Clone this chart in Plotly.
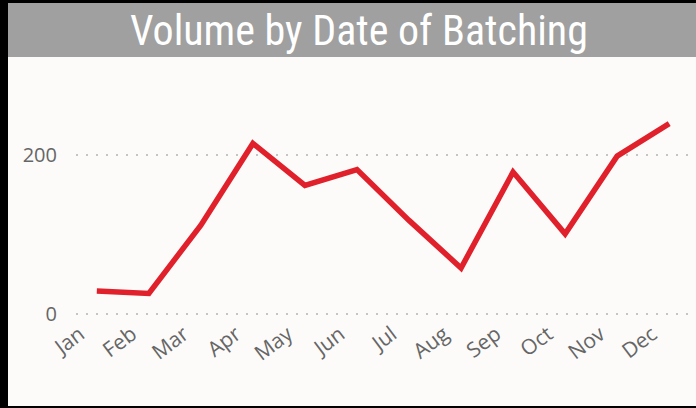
import plotly.graph_objects as go

months = ["Jan", "Feb", "Mar", "Apr", "May", "Jun", "Jul", "Aug", "Sep", "Oct", "Nov", "Dec"]
volume = [29, 26, 112, 215, 162, 182, 118, 58, 179, 101, 199, 240]
y_ticks = [0, 200]
title_text = "Volume by Date of Batching"

W, H = 696, 408
L, R, T, B = 76, 6, 76, 92
pw, ph = W - L - R, H - T - B


def px(x):
    return (x - L) / pw


def py(y):
    return (H - B - y) / ph


fig = go.Figure()
fig.add_trace(go.Scatter(
    x=months, y=volume, mode="lines",
    line=dict(color="#E0202A", width=5.5),
    hoverinfo="x+y",
))

shapes = [
    dict(type="rect", xref="paper", yref="paper", x0=px(0), x1=px(W), y0=py(57), y1=py(0),
         fillcolor="#A0A0A0", line=dict(width=0), layer="below"),
    dict(type="rect", xref="paper", yref="paper", x0=px(0), x1=px(W), y0=py(3), y1=py(0),
         fillcolor="#000000", line=dict(width=0)),
    dict(type="rect", xref="paper", yref="paper", x0=px(0), x1=px(8), y0=py(H), y1=py(0),
         fillcolor="#000000", line=dict(width=0)),
    dict(type="rect", xref="paper", yref="paper", x0=px(0), x1=px(W), y0=py(H), y1=py(406),
         fillcolor="#000000", line=dict(width=0)),
]

fig.update_layout(
    width=W, height=H,
    margin=dict(l=L, r=R, t=T, b=B),
    paper_bgcolor="#FCFBFA", plot_bgcolor="#FCFBFA",
    showlegend=False,
    shapes=shapes,
    annotations=[dict(
        text=title_text, xref="paper", yref="paper",
        x=px(359), y=py(30), xanchor="center", yanchor="middle", showarrow=False,
        font=dict(family="Liberation Sans Narrow, Roboto Condensed, Roboto", size=42, color="#FFFFFF"),
    )],
    xaxis=dict(
        type="category", range=[-0.4, 11.4], showgrid=False, zeroline=False, showline=False,
        tickangle=-37, tickfont=dict(family="Open Sans, Noto Sans", size=21, color="#666666"),
        ticks="", ticklabelshift=-17, ticklabelstandoff=1, fixedrange=True,
    ),
    yaxis=dict(
        range=[-2.5, 300], tickvals=y_ticks, showgrid=True, gridcolor="#C4C4C4", gridwidth=1.5,
        griddash="2px,8px", zeroline=False, showline=False, ticks="",
        tickfont=dict(family="Open Sans, Noto Sans", size=20, color="#666666"),
        ticklabelstandoff=18, fixedrange=True,
    ),
)

fig.write_html("out.html", config={"displayModeBar": False},
               post_script="document.body.style.margin='0';")
